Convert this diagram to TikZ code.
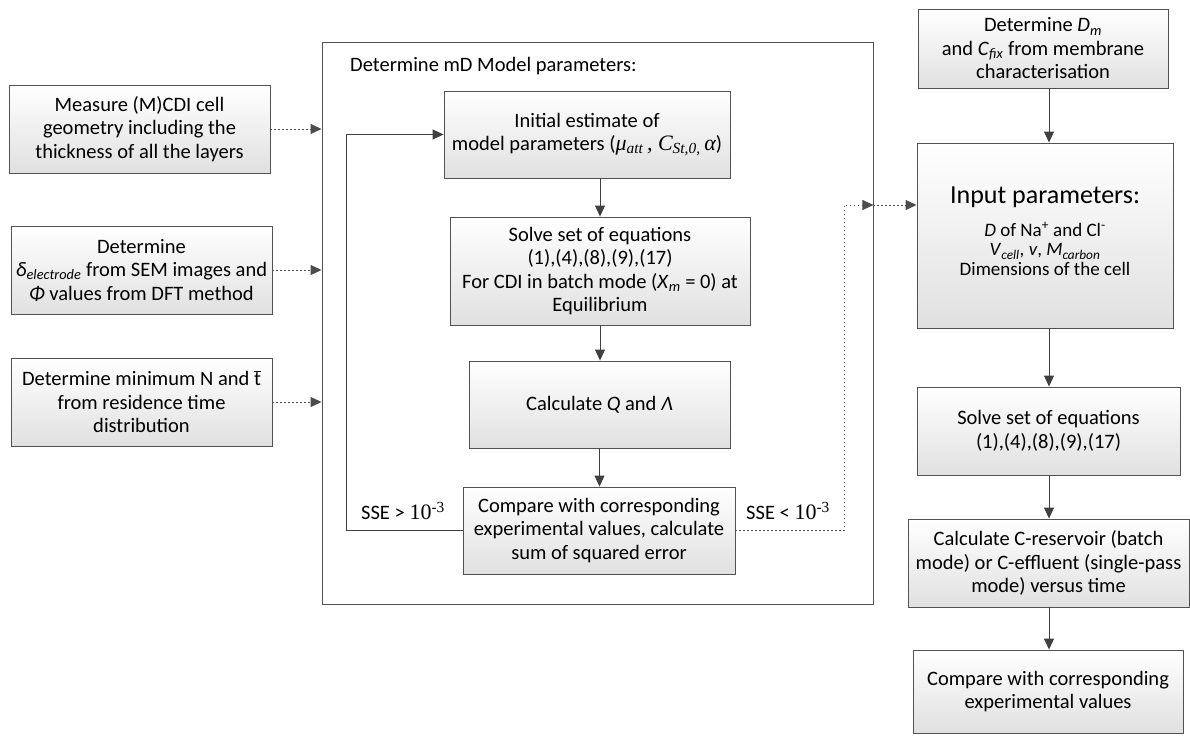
\documentclass[tikz,border=0pt]{standalone}
\usepackage{fontspec}
\setmainfont{Carlito}
\newfontfamily\tnr{Liberation Serif}
\usetikzlibrary{arrows.meta}
\tikzset{
  box/.style={draw=black!68, line width=0.9pt, top color=white, bottom color=black!12,
    align=center, inner sep=0pt, font=\fontsize{20.5}{23.5}\selectfont},
  arr/.style={draw=black!75, line width=0.9pt, -{Triangle[length=11pt,width=10pt]}},
  dotarr/.style={draw=black!70, line width=0.9pt, dash pattern=on 1.2pt off 2.8pt,
    -{Triangle[length=11pt,width=10pt]}},
  lbl/.style={font=\fontsize{20.5}{23.5}\selectfont, inner sep=0pt},
}
\begin{document}
\begin{tikzpicture}[x=1pt,y=-1pt]
\useasboundingbox (0,0) rectangle (1190,736);

% left column
\node[box, minimum width=261pt, minimum height=88pt] (b1) at (139.5,129)
  {Measure (M)CDI cell\\geometry including the\\thickness of all the layers};
\node[box, minimum width=261pt, minimum height=88pt] (b2) at (141.5,270)
  {Determine\\\textit{δ}\textsubscript{\textit{electrode}} from SEM images and\\\textit{Φ} values from DFT method};
\node[box, minimum width=261pt, minimum height=88pt] (b3) at (141.5,402)
  {Determine minimum N and \ensuremath{\overline{\hbox{t}}}\\from residence time\\distribution};

% model box
\node[draw=black!68, line width=0.9pt, fill=white, minimum width=551pt, minimum height=562pt, inner sep=0pt] (md) at (597.5,323) {};
\node[lbl, anchor=west] (mdt) at (350,66) {Determine mD Model parameters:};

\node[box, minimum width=286pt, minimum height=87pt] (i1) at (587,134.5)
  {Initial estimate of\\model parameters ({\tnr\itshape\fontsize{22}{23.5}\selectfont μ\textsubscript{att}\,, C\textsubscript{St,0,}\,α})};
\node[box, minimum width=300pt, minimum height=108pt] (i2) at (600,271)
  {Solve set of equations\\(1),(4),(8),(9),(17)\\For CDI in batch mode (\textit{X}\textsubscript{\textit{m}} = 0) at\\Equilibrium};
\node[box, minimum width=261pt, minimum height=87pt] (i3) at (599.5,404.5)
  {Calculate \textit{Q} and \textit{Λ}};
\node[box, minimum width=272pt, minimum height=87pt] (i4) at (599,530.5)
  {Compare with corresponding\\experimental values, calculate\\sum of squared error};

\node[lbl] (sg) at (403,511) {SSE > {\tnr\fontsize{22}{23.5}\selectfont 10\textsuperscript{-3}}};
\node[lbl] (sl) at (788,511) {SSE < {\tnr\fontsize{22}{23.5}\selectfont 10\textsuperscript{-3}}};

% right column
\node[box, minimum width=250pt, minimum height=79pt] (r1) at (1043,48.5)
  {Determine \textit{D}\textsubscript{\textit{m}}\\and \textit{C}\textsubscript{\textit{fix}} from membrane\\characterisation};
\node[box, minimum width=256pt, minimum height=185pt] (r2) at (1045,235.5) {};
\node[inner sep=0pt, font=\fontsize{26}{30}\selectfont] (r2t) at (1045,197) {Input parameters:};
\node[inner sep=0pt, align=center, font=\fontsize{19}{19.5}\selectfont] (r2b) at (1045,249)
  {\textit{D} of Na\textsuperscript{+} and Cl\textsuperscript{-}\\\textit{V}\textsubscript{\textit{cell}}, \textit{v}, \textit{M}\textsubscript{\textit{carbon}}\\Dimensions of the cell};
\node[box, minimum width=263pt, minimum height=88pt] (r3) at (1048.5,431)
  {Solve set of equations\\(1),(4),(8),(9),(17)};
\node[box, minimum width=281pt, minimum height=88pt] (r4) at (1048.5,563)
  {Calculate C-reservoir (batch\\mode) or C-effluent (single-pass\\mode) versus time};
\node[box, minimum width=270pt, minimum height=83pt] (r5) at (1048,691.5)
  {Compare with corresponding\\experimental values};

% helper coordinates
\coordinate (lp) at (346,0);
\coordinate (dp) at (844,205);
\coordinate (ax) at (1049,0);

% connectors
\draw[dotarr] (b1.east) -- (b1.east -| md.west);
\draw[dotarr] (b2.east) -- (b2.east -| md.west);
\draw[dotarr] (b3.east) -- (b3.east -| md.west);

\draw[arr] (i1.south -| i2.north) -- (i2.north);
\draw[arr] (i2.south) -- (i2.south |- i3.north);
\draw[arr] (i3.south) -- (i3.south |- i4.north);
\draw[arr] (i4.west) -- (i4.west -| lp) |- (i1.west);

\draw[dotarr] (i4.east) -- (i4.east -| dp) -- (dp) -- (dp -| md.east);
\draw[dotarr] (dp -| md.east) -- (dp -| r2.west);

\draw[arr] (r1.south -| ax) -- (r2.north -| ax);
\draw[arr] (r2.south -| ax) -- (r3.north -| ax);
\draw[arr] (r3.south -| ax) -- (r4.north -| ax);
\draw[arr] (r4.south -| ax) -- (r5.north -| ax);
\end{tikzpicture}
\end{document}
